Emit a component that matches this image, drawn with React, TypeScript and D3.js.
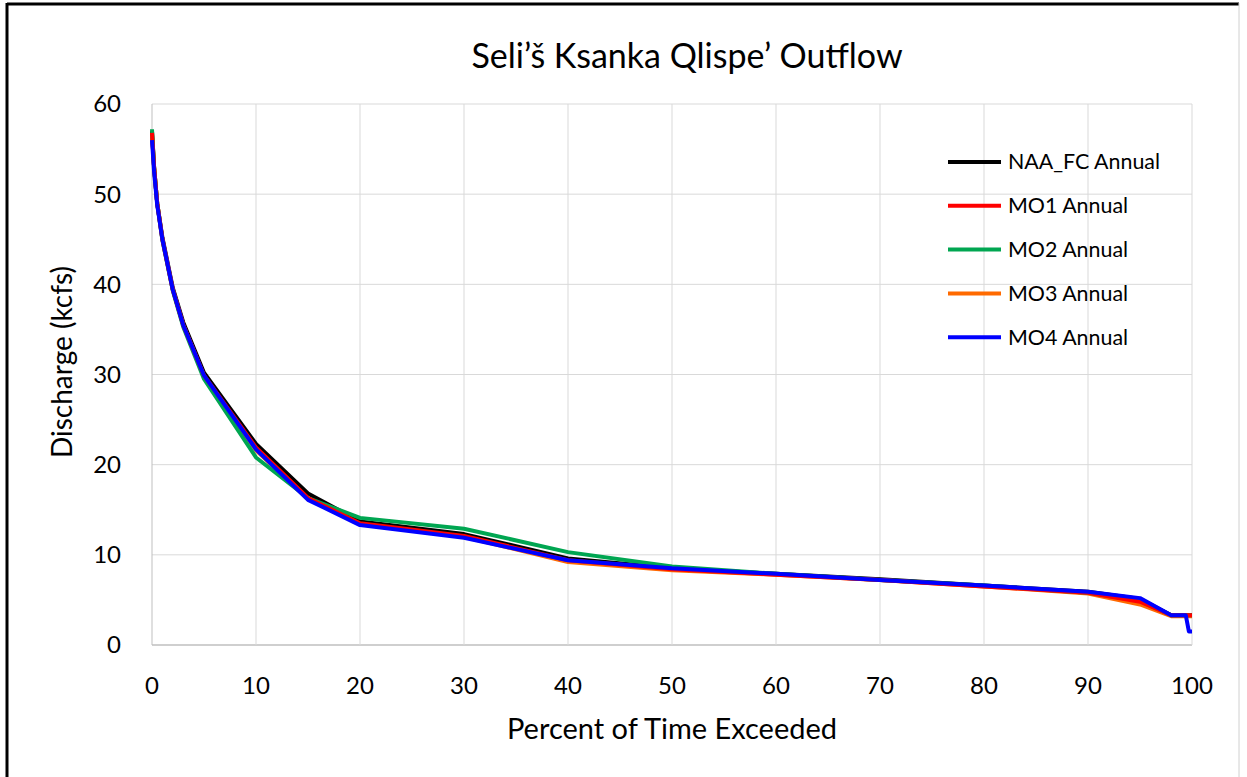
import React from "react";
import * as d3 from "d3";

const percent = [0, 0.2, 0.5, 1, 2, 3, 5, 10, 15, 20, 30, 40, 50, 60, 70, 80, 90, 95, 98, 99.4, 99.7, 100];

const naaFC = [57, 53, 49, 45.2, 39.6, 35.8, 30.2, 22.3, 16.8, 13.7, 12.3, 9.6, 8.5, 7.9, 7.3, 6.6, 5.9, 5.1, 3.3, 3.3, 3.3, 3.3];
const mo1 = [56.8, 53, 49, 45, 39.4, 35.5, 29.9, 21.9, 16.3, 13.5, 12.1, 9.4, 8.4, 7.8, 7.2, 6.5, 5.8, 4.8, 3.3, 3.3, 3.3, 3.3];
const mo2 = [57.2, 53, 49, 44.9, 39.3, 35.3, 29.5, 20.8, 16.3, 14.1, 12.9, 10.3, 8.7, 7.9, 7.2, 6.6, 5.8, 4.9, 3.3, 3.3, 3.3, 3.3];
const mo3 = [56.5, 53, 49, 45, 39.4, 35.5, 29.8, 21.6, 16.2, 13.4, 12.0, 9.2, 8.3, 7.8, 7.2, 6.5, 5.7, 4.5, 3.2, 3.2, 3.2, 3.2];
const mo4 = [56, 52.5, 48.8, 45, 39.4, 35.5, 29.9, 21.7, 16.1, 13.3, 11.9, 9.4, 8.5, 7.9, 7.2, 6.6, 5.9, 5.2, 3.3, 3.3, 1.5, 1.5];

const seriesNames = ["NAA_FC Annual", "MO1 Annual", "MO2 Annual", "MO3 Annual", "MO4 Annual"];
const seriesColors = ["#000000", "#ff0000", "#00a651", "#ff6a00", "#0000ff"];
const seriesValues = [naaFC, mo1, mo2, mo3, mo4];
const drawOrder = [0, 3, 2, 1, 4];

const xTicks = [0, 10, 20, 30, 40, 50, 60, 70, 80, 90, 100];
const yTicks = [0, 10, 20, 30, 40, 50, 60];

const title = "Seli’š Ksanka Qlispe’ Outflow";
const xTitle = "Percent of Time Exceeded";
const yTitle = "Discharge (kcfs)";

const W = 1247;
const H = 777;
const FONT = "Lato, 'Open Sans', sans-serif";

export default function App() {
  const x = d3.scaleLinear().domain([0, 100]).range([152, 1192]);
  const y = d3.scaleLinear().domain([0, 60]).range([645, 104]);
  const line = d3
    .line<number>()
    .x((_, i) => x(percent[i]))
    .y((d) => y(d));

  return (
    <svg
      width={W}
      height={H}
      style={{ position: "absolute", left: 0, top: 0, background: "#fff" }}
    >
      <rect x={0} y={0} width={W} height={H} fill="#fff" />
      {/* frame */}
      <line x1={7} y1={4} x2={1239} y2={4} stroke="#000" strokeWidth={3} />
      <line x1={7} y1={3} x2={7} y2={H} stroke="#000" strokeWidth={3} />
      <line x1={1239} y1={3} x2={1239} y2={H} stroke="#d0d0d0" strokeWidth={1} />

      {/* gridlines */}
      {yTicks.map((t) => (
        <line key={"gy" + t} x1={x(0)} x2={x(100)} y1={y(t)} y2={y(t)} stroke={t === 0 ? "#bfbfbf" : "#d9d9d9"} strokeWidth={t === 0 ? 1.5 : 1} />
      ))}
      {xTicks.map((t) => (
        <line key={"gx" + t} x1={x(t)} x2={x(t)} y1={y(0)} y2={y(60)} stroke={t === 0 ? "#bfbfbf" : "#d9d9d9"} strokeWidth={1} />
      ))}

      {/* lines */}
      {drawOrder.map((i) => (
        <path
          key={seriesNames[i]}
          d={line(seriesValues[i]) || ""}
          fill="none"
          stroke={seriesColors[i]}
          strokeWidth={4}
          strokeLinejoin="round"
        />
      ))}

      {/* y tick labels */}
      {yTicks.map((t) => (
        <text key={"ly" + t} x={121} y={y(t)} dy="0.35em" textAnchor="end" fontFamily={FONT} fontSize={24} fill="#000">
          {t}
        </text>
      ))}
      {/* x tick labels */}
      {xTicks.map((t) => (
        <text key={"lx" + t} x={x(t)} y={686} dy="0.35em" textAnchor="middle" fontFamily={FONT} fontSize={24} fill="#000">
          {t}
        </text>
      ))}

      {/* titles */}
      <text x={687} y={56} dy="0.35em" textAnchor="middle" fontFamily={FONT} fontSize={34} fill="#000">
        {title}
      </text>
      <text x={672} y={729} dy="0.35em" textAnchor="middle" fontFamily={FONT} fontSize={29} fill="#000">
        {xTitle}
      </text>
      <text
        transform={`translate(62,362) rotate(-90)`}
        dy="0.35em"
        textAnchor="middle"
        fontFamily={FONT}
        fontSize={28}
        fill="#000"
      >
        {yTitle}
      </text>

      {/* legend */}
      {seriesNames.map((name, i) => {
        const ly = 162 + i * 43.8;
        return (
          <g key={"lg" + name}>
            <line x1={948} x2={1001} y1={ly} y2={ly} stroke={seriesColors[i]} strokeWidth={4} />
            <text x={1008} y={ly} dy="0.35em" fontFamily={FONT} fontSize={21.4} fill="#000">
              {name}
            </text>
          </g>
        );
      })}
    </svg>
  );
}
